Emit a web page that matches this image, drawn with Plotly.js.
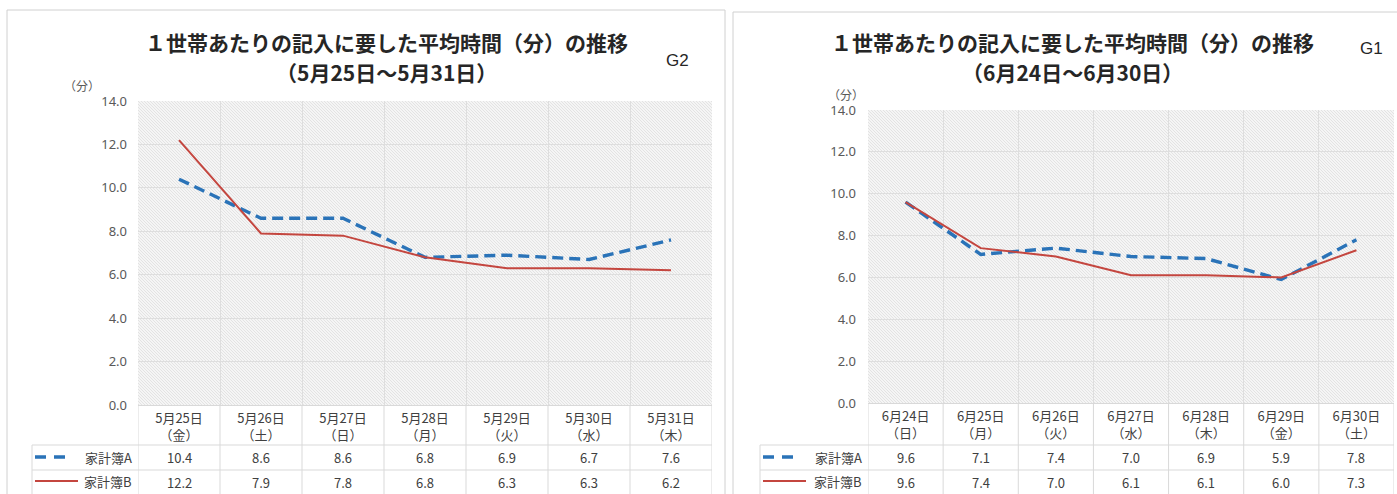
<!DOCTYPE html>
<html>
<head>
<meta charset="utf-8">
<script src="https://cdn.plot.ly/plotly-3.0.1.min.js"></script>
<style>
  html, body { margin: 0; padding: 0; background: #fff; }
  #chart { width: 1397px; height: 494px; }
</style>
</head>
<body>
<div id="chart"></div>
<script>
// ---- data: week of 25–31 May (G2) ----
const g2Dates    = ["5月25日", "5月26日", "5月27日", "5月28日", "5月29日", "5月30日", "5月31日"];
const g2Weekdays = ["金", "土", "日", "月", "火", "水", "木"];
const g2BookA    = [10.4, 8.6, 8.6, 6.8, 6.9, 6.7, 7.6];
const g2BookB    = [12.2, 7.9, 7.8, 6.8, 6.3, 6.3, 6.2];

// ---- data: week of 24–30 June (G1) ----
const g1Dates    = ["6月24日", "6月25日", "6月26日", "6月27日", "6月28日", "6月29日", "6月30日"];
const g1Weekdays = ["日", "月", "火", "水", "木", "金", "土"];
const g1BookA    = [9.6, 7.1, 7.4, 7.0, 6.9, 5.9, 7.8];
const g1BookB    = [9.6, 7.4, 7.0, 6.1, 6.1, 6.0, 7.3];

const seriesNames = ["家計簿A", "家計簿B"];
const yTickVals   = [0, 2, 4, 6, 8, 10, 12, 14];
const mainTitle   = "１世帯あたりの記入に要した平均時間（分）の推移";
const g2Period    = "（5月25日～5月31日）";
const g1Period    = "（6月24日～6月30日）";
const unitLabel   = "（分）";

// ---- page geometry (pixels) ----
const W = 1397, H = 494;
const px = x => x / W;
const py = y => 1 - y / H;

const BLUE = "#2a73b8";
const RED = "#c4463f";
const GRID = "#d9d9d9";
const TEXT = "#404040";
const JP = "'Noto Sans CJK JP', 'Noto Sans', sans-serif";

const panels = [
  { dates: g2Dates, weekdays: g2Weekdays, a: g2BookA, b: g2BookB, period: g2Period, tag: "G2",
    ax: "", x0: 138, x1: 712, top: 101, bottom: 405, legendLeft: 32,
    frame: [7, 10, 725], titleX: 386, tagX: 677, tagY: 60, unitX: 82, unitY: 85, standoff: 10 },
  { dates: g1Dates, weekdays: g1Weekdays, a: g1BookA, b: g1BookB, period: g1Period, tag: "G1",
    ax: "2", x0: 868, x1: 1394, top: 110, bottom: 403, legendLeft: 760,
    frame: [733, 12, 1400], titleX: 1072, tagX: 1371, tagY: 48, unitX: 846, unitY: 95, standoff: 11 }
];

// fine diagonal hatch used as the plot-area background
function hatch(w, h) {
  const svg =
    `<svg xmlns="http://www.w3.org/2000/svg" width="${w}" height="${h}" viewBox="0 0 ${w} ${h}">` +
    `<defs><pattern id="p" width="3" height="3" patternUnits="userSpaceOnUse">` +
    `<rect width="3" height="3" fill="#f5f5f5"/>` +
    `<path d="M-1,-1 L4,4 M2,-1 L4,1 M-1,2 L1,4" stroke="#e1e1e1" stroke-width="0.9"/>` +
    `</pattern></defs><rect width="${w}" height="${h}" fill="url(#p)"/></svg>`;
  return "data:image/svg+xml;charset=utf-8," + encodeURIComponent(svg);
}

const traces = [];
const shapes = [];
const annotations = [];
const images = [];
const layout = {
  width: W, height: H,
  margin: { l: 0, r: 0, t: 0, b: 0 },
  paper_bgcolor: "#ffffff",
  plot_bgcolor: "rgba(0,0,0,0)",
  showlegend: false,
  font: { family: JP, color: TEXT }
};

panels.forEach(p => {
  const xa = "x" + p.ax, ya = "y" + p.ax;
  const cats = p.dates.map((d, i) => `${d}<br>（${p.weekdays[i]}）`);

  traces.push({
    type: "scatter", mode: "lines", name: seriesNames[0],
    x: cats, y: p.a, xaxis: xa, yaxis: ya,
    line: { color: BLUE, width: 3.4, dash: "11px,6px" }, hoverinfo: "skip"
  });
  traces.push({
    type: "scatter", mode: "lines", name: seriesNames[1],
    x: cats, y: p.b, xaxis: xa, yaxis: ya,
    line: { color: RED, width: 2 }, hoverinfo: "skip"
  });

  layout["xaxis" + p.ax] = {
    domain: [px(p.x0), px(p.x1)], anchor: ya,
    type: "category", range: [-0.5, cats.length - 0.5],
    tickson: "boundaries", ticks: "", showgrid: true, gridcolor: "#dedede", gridwidth: 1,
    showline: true, linecolor: GRID, linewidth: 1,
    tickfont: { family: JP, size: 13, color: TEXT }, ticklabelstandoff: 1,
    fixedrange: true
  };
  layout["yaxis" + p.ax] = {
    domain: [py(p.bottom), py(p.top)], anchor: xa,
    range: [0, 14], tickvals: yTickVals, tickformat: ".1f",
    showgrid: true, gridcolor: "#dedede", gridwidth: 1, zeroline: false,
    ticks: "", ticklabelstandoff: p.standoff,
    tickfont: { family: "'Liberation Sans Narrow', 'Noto Sans', sans-serif", size: 13, color: "#595959" },
    fixedrange: true
  };

  images.push({
    source: hatch(p.x1 - p.x0, p.bottom - p.top),
    xref: xa + " domain", yref: ya + " domain",
    x: 0, y: 1, sizex: 1, sizey: 1, sizing: "stretch",
    xanchor: "left", yanchor: "top", layer: "below"
  });

  // panel frame
  shapes.push({
    type: "rect", xref: "paper", yref: "paper",
    x0: px(p.frame[0]), x1: px(p.frame[2]), y0: py(H + 6), y1: py(p.frame[1]),
    line: { color: "#d0d0d0", width: 1 }, fillcolor: "rgba(0,0,0,0)", layer: "below"
  });

  // data-table column rules, aligned to the category boundaries
  for (let k = 0; k <= cats.length; k++) {
    shapes.push({
      type: "line", xref: xa, yref: "paper",
      x0: k - 0.5, x1: k - 0.5, y0: py(p.bottom), y1: py(H + 2),
      line: { color: GRID, width: 1 }
    });
  }
  // row rules and legend column
  [445, 470].forEach(y => shapes.push({
    type: "line", xref: "paper", yref: "paper",
    x0: px(p.legendLeft), x1: px(p.x1), y0: py(y), y1: py(y),
    line: { color: GRID, width: 1 }
  }));
  shapes.push({
    type: "line", xref: "paper", yref: "paper",
    x0: px(p.legendLeft), x1: px(p.legendLeft), y0: py(445), y1: py(H + 2),
    line: { color: GRID, width: 1 }
  });

  // legend keys inside the table
  const kx = p.legendLeft + 3;
  shapes.push({
    type: "line", xref: "paper", yref: "paper",
    x0: px(kx), x1: px(kx + 32), y0: py(457), y1: py(457),
    line: { color: BLUE, width: 3.4, dash: "11px,8px" }
  });
  shapes.push({
    type: "line", xref: "paper", yref: "paper",
    x0: px(kx), x1: px(kx + 43), y0: py(481), y1: py(481),
    line: { color: RED, width: 2 }
  });
  [[seriesNames[0], 457], [seriesNames[1], 481]].forEach(([name, y]) => annotations.push({
    xref: "paper", yref: "paper", x: px(p.x0 - 4), y: py(y),
    xanchor: "right", yanchor: "middle", showarrow: false,
    text: name, font: { family: JP, size: 13, color: TEXT }
  }));

  // table values
  [[p.a, 457], [p.b, 482]].forEach(([vals, y]) => vals.forEach((v, i) => annotations.push({
    xref: xa, yref: "paper", x: cats[i], y: py(y),
    xanchor: "center", yanchor: "middle", showarrow: false,
    text: v.toFixed(1), font: { family: JP, size: 13, color: TEXT }
  })));

  // titles, tag and unit
  annotations.push({
    xref: "paper", yref: "paper", x: px(p.titleX), y: py(42),
    xanchor: "center", yanchor: "middle", showarrow: false,
    text: mainTitle, font: { family: JP, size: 21, color: "#262626", weight: "bold" }
  });
  annotations.push({
    xref: "paper", yref: "paper", x: px(p.titleX), y: py(72),
    xanchor: "center", yanchor: "middle", showarrow: false,
    text: p.period, font: { family: JP, size: 21, color: "#262626", weight: "bold" }
  });
  annotations.push({
    xref: "paper", yref: "paper", x: px(p.tagX), y: py(p.tagY),
    xanchor: "center", yanchor: "middle", showarrow: false,
    text: p.tag, font: { family: "'Liberation Sans', Arial, sans-serif", size: 17, color: "#262626" }
  });
  annotations.push({
    xref: "paper", yref: "paper", x: px(p.unitX), y: py(p.unitY),
    xanchor: "center", yanchor: "middle", showarrow: false,
    text: unitLabel, font: { family: JP, size: 12, color: "#595959" }
  });
});

layout.shapes = shapes;
layout.annotations = annotations;
layout.images = images;

Plotly.newPlot("chart", traces, layout, { displayModeBar: false, staticPlot: true });
</script>
</body>
</html>
